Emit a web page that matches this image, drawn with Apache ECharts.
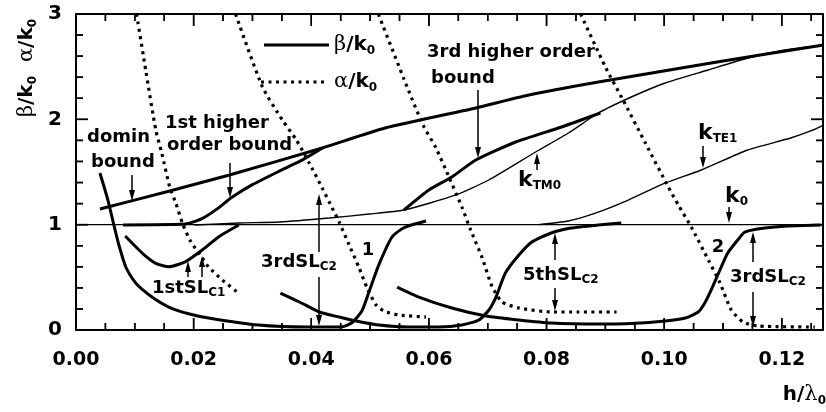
<!DOCTYPE html>
<html><head><meta charset="utf-8">
<script src="https://cdn.jsdelivr.net/npm/echarts@6/dist/echarts.min.js"></script>
<style>html,body{margin:0;padding:0;background:#fff}#c{width:826px;height:412px}</style>
</head><body><div id="c"></div>
<script>
// ---- tick labels ----
const xTickLabels = ['0.00','0.02','0.04','0.06','0.08','0.10','0.12'];
const yTickLabels = ['0','1','2','3'];
const xMinorStep = 0.005, yMinorStep = 0.2;

// ---- beta/k0 thick curves ----
const dominBoundTop = [[0.00407,1.149],[0.01593,1.320],[0.0261,1.472],[0.04186,1.728],[0.05254,1.918],[0.06797,2.108],[0.07627,2.222],[0.08881,2.354],[0.10797,2.535],[0.12712,2.706]];
const firstHigherBound = [[0.0080,0.997],[0.0180,1.003],[0.0193,1.015],[0.0215,1.06],[0.0240,1.15],[0.0265,1.26],[0.0300,1.38],[0.0350,1.52],[0.0385,1.615],[0.0419,1.728]];
const thirdHigherBound = [[0.05576,1.139],[0.0600,1.329],[0.0639,1.453],[0.06797,1.614],[0.07475,1.785],[0.08254,1.927],[0.08915,2.060]];
const firstSLC1Beta = [[0.00836,0.892],[0.0113,0.728],[0.01356,0.633],[0.0158,0.601],[0.01864,0.649],[0.02147,0.760],[0.02429,0.886],[0.02768,0.997]];
const mode1Beta = [[0.00407,1.49],[0.00542,1.234],[0.00644,0.997],[0.00729,0.807],[0.00847,0.598],[0.0100,0.456],[0.01136,0.380],[0.0134,0.294],[0.01576,0.218],[0.0193,0.152],[0.02254,0.114],[0.0310,0.047],[0.0395,0.028],[0.0451,0.028],[0.0469,0.069],[0.0486,0.18],[0.0498,0.36],[0.0515,0.62],[0.0537,0.88],[0.0554,0.96],[0.0566,0.99],[0.0595,1.035]];
const thirdSLC2Beta = [[0.03475,0.351],[0.0380,0.266],[0.04136,0.171],[0.04475,0.123],[0.04763,0.085],[0.0515,0.047],[0.0566,0.028],[0.0617,0.028],[0.0656,0.047],[0.0685,0.095],[0.0702,0.19],[0.0714,0.313],[0.0730,0.541],[0.0753,0.712],[0.0775,0.835],[0.0808,0.921],[0.0842,0.968],[0.0888,0.997],[0.0927,1.016]];
const fifthSLC2Beta = [[0.0546,0.408],[0.0583,0.313],[0.0639,0.209],[0.0697,0.133],[0.0753,0.095],[0.0808,0.066],[0.0888,0.057],[0.0944,0.062],[0.1002,0.085],[0.1036,0.114],[0.1058,0.171],[0.1069,0.256],[0.1080,0.38],[0.1097,0.598],[0.1108,0.731],[0.1125,0.854],[0.1137,0.93],[0.1171,0.968],[0.1210,0.987],[0.1266,0.997]];

// ---- thin reference curves ----
const k0Line = [[0,1],[0.127,1]];
const kTM0 = [[0.0202,0.997],[0.0278,1.016],[0.0346,1.025],[0.04305,1.063],[0.04983,1.101],[0.05576,1.139],[0.06458,1.282],[0.07017,1.424],[0.07814,1.690],[0.08373,1.870],[0.08881,2.060],[0.09441,2.212],[0.10017,2.345],[0.10746,2.468],[0.11424,2.582],[0.12051,2.658],[0.12712,2.706]];
const kTE1 = [[0.0786,1.0],[0.0837,1.035],[0.0883,1.11],[0.0939,1.234],[0.1002,1.396],[0.1063,1.519],[0.1142,1.709],[0.1215,1.823],[0.1249,1.89],[0.1271,1.946]];

// ---- alpha/k0 dotted curves ----
const alpha1 = [[0.0103,3.0],[0.0119,2.45],[0.01356,1.90],[0.01458,1.68],[0.01593,1.358],[0.0170,1.20],[0.01814,1.006],[0.0195,0.84],[0.02136,0.693],[0.02254,0.598],[0.02486,0.475],[0.02763,0.351]];
const alpha2 = [[0.02712,3.0],[0.0317,2.307],[0.03508,1.994],[0.03746,1.804],[0.03966,1.585],[0.04186,1.348],[0.04356,1.158],[0.04475,1.025],[0.04644,0.807],[0.04814,0.589],[0.04949,0.399],[0.05102,0.237],[0.05237,0.18],[0.05492,0.142],[0.05949,0.123]];
const alpha3 = [[0.0514,3.0],[0.0563,2.307],[0.0590,1.946],[0.0612,1.728],[0.0634,1.453],[0.0656,1.168],[0.0671,0.949],[0.0690,0.693],[0.0707,0.418],[0.0724,0.266],[0.0753,0.209],[0.0808,0.171],[0.0854,0.171],[0.0919,0.171]];
const alpha4 = [[0.0858,3.0],[0.0900,2.497],[0.0930,2.184],[0.0968,1.775],[0.1007,1.358],[0.1024,1.187],[0.1046,0.978],[0.1075,0.665],[0.1095,0.446],[0.1114,0.19],[0.1134,0.076],[0.1159,0.038],[0.1256,0.028]];

const chart = echarts.init(document.getElementById('c'));
const SANS = 'DejaVu Sans', SERIF = 'DejaVu Serif';
const X_MAX = 0.127, Y_MAX = 3;
const GRID = {left:76,right:2,top:14,bottom:82};

function thick(data){return {type:'line',data,showSymbol:false,smooth:0.2,silent:true,lineStyle:{color:'#000',width:3},z:3};}
function thin(data){return {type:'line',data,showSymbol:false,smooth:0.2,silent:true,lineStyle:{color:'#000',width:1.4},z:2};}
function dotted(data){return {type:'line',data,showSymbol:false,smooth:0.2,silent:true,lineStyle:{color:'#000',width:3.2,type:[3,4.5]},z:2};}

// frame tick segments as tiny line series (axis decoration), lengths in axis units
const plotW = 826 - GRID.left - GRID.right, plotH = 412 - GRID.top - GRID.bottom;
const xu = X_MAX/plotW, yu = Y_MAX/plotH;
const tickSeries = [];
function tickLine(a,b){tickSeries.push({type:'line',data:[a,b],showSymbol:false,silent:true,clip:false,z:5,lineStyle:{color:'#000',width:1.5}});}
for (let i=1;i*xMinorStep<X_MAX-1e-9;i++){
  const x=i*xMinorStep, len=((i%4===0)?12:7)*yu;
  tickLine([x,0],[x,len]); tickLine([x,Y_MAX],[x,Y_MAX-len]);
}
for (let j=1;j*yMinorStep<Y_MAX-1e-9;j++){
  const y=j*yMinorStep, len=((j%5===0)?12:7)*xu;
  tickLine([0,y],[len,y]); tickLine([X_MAX,y],[X_MAX-len,y]);
}

const rich = {
  b:{fontFamily:SANS,fontWeight:'bold',fontSize:18,lineHeight:22,color:'#000'},
  k:{fontFamily:SANS,fontWeight:'bold',fontSize:22,lineHeight:24,color:'#000'},
  s:{fontFamily:SANS,fontWeight:'bold',fontSize:12,lineHeight:12,verticalAlign:'bottom',color:'#000'},
  g:{fontFamily:SERIF,fontSize:21,lineHeight:24,color:'#000'},
  bk:{fontFamily:SANS,fontWeight:'bold',fontSize:20,lineHeight:24,color:'#000'}
};
function txt(x,y,t,align){return {type:'text',x,y,z:10,silent:true,style:{text:t,rich,align:align||'left',verticalAlign:'middle',fill:'#000'}};}
function seg(x1,y1,x2,y2,w){return {type:'line',z:9,silent:true,shape:{x1,y1,x2,y2},style:{stroke:'#000',lineWidth:w||1.5}};}
function arrow(x,y1,y2){
  const d = y2>y1?1:-1;
  return [
    seg(x,y1,x,y2-d*6),
    {type:'polygon',z:9,silent:true,shape:{points:[[x,y2],[x-3,y2-d*11],[x+3,y2-d*11]]},style:{fill:'#000'}}
  ];
}
const baseGraphic = [
  seg(264,45,329,45,3),
  {type:'line',z:9,shape:{x1:261,y1:82,x2:328,y2:82},style:{stroke:'#000',lineWidth:3.2,lineDash:[3,4.5]}},
  txt(334,45,'{g|β}{bk|/k}{s|0}'),
  txt(334,82,'{g|α}{bk|/k}{s|0}'),
  {type:'text',x:27,y:68,rotation:Math.PI/2,z:10,style:{text:'{g|β}{bk|/k}{s|0}{bk|  }{g|α}{bk|/k}{s|0}',rich,align:'center',verticalAlign:'middle'}},
  txt(826,395,'{bk|h/}{g|λ}{s|0}','right'),
  txt(87,137,'{b|domin}'), txt(91,162,'{b|bound}'),
  txt(165,123,'{b|1st higher}'), txt(167,145,'{b|order bound}'),
  txt(427,52,'{b|3rd higher order}'), txt(431,78,'{b|bound}'),
  txt(518,180,'{k|k}{s|TM0}'), txt(698,133,'{k|k}{s|TE1}'), txt(725,196,'{k|k}{s|0}'),
  txt(152,288,'{b|1stSL}{s|C1}'),
  txt(261,262,'{b|3rdSL}{s|C2}'),
  txt(368,250,'{b|1}','center'),
  txt(523,275,'{b|5thSL}{s|C2}'),
  txt(718,247,'{b|2}','center'),
  txt(730,277,'{b|3rdSL}{s|C2}'),
  ...arrow(132,175,201), ...arrow(230,163,198), ...arrow(478,90,158),
  ...arrow(537,170,153), ...arrow(703,146,168), ...arrow(729,207,223),
  ...arrow(188,277,261), ...arrow(202,277,256),
  ...arrow(319,252,194), ...arrow(319,277,326),
  ...arrow(555,260,233), ...arrow(555,288,311),
  ...arrow(753,262,232), ...arrow(753,292,327)
];

const axisLineStyle = {show:true,onZero:false,lineStyle:{color:'#000',width:2}};
const option = {
  animation:false,
  backgroundColor:'#fff',
  grid:Object.assign({containLabel:false},GRID),
  xAxis:[
    {type:'value',position:'bottom',min:0,max:X_MAX,interval:0.02,splitLine:{show:false},axisLine:axisLineStyle,axisTick:{show:false},
      axisLabel:{show:true,margin:21,color:'#000',fontFamily:SANS,fontWeight:'bold',fontSize:19,
        formatter:v=>{const s=v.toFixed(2);return (xTickLabels.includes(s)&&Math.abs(v-parseFloat(s))<1e-9)?s:'';}}},
    {type:'value',position:'top',min:0,max:X_MAX,interval:0.02,splitLine:{show:false},axisLine:axisLineStyle,axisTick:{show:false},axisLabel:{show:false}}
  ],
  yAxis:[
    {type:'value',position:'left',min:0,max:Y_MAX,interval:1,axisLine:axisLineStyle,splitLine:{show:false},axisTick:{show:false},
      axisLabel:{show:true,margin:14,color:'#000',fontFamily:SANS,fontWeight:'bold',fontSize:20,
        formatter:v=>yTickLabels[Math.round(v)]}},
    {type:'value',position:'right',min:0,max:Y_MAX,interval:1,axisLine:axisLineStyle,splitLine:{show:false},axisTick:{show:false},axisLabel:{show:false}}
  ],
  series:[
    thin(k0Line), thin(kTM0), thin(kTE1),
    thick(dominBoundTop), thick(firstHigherBound), thick(thirdHigherBound),
    thick(firstSLC1Beta), thick(mode1Beta), thick(thirdSLC2Beta), thick(fifthSLC2Beta),
    dotted(alpha1), dotted(alpha2), dotted(alpha3), dotted(alpha4)
  ].concat(tickSeries).map(s=>Object.assign(s,{xAxisIndex:0,yAxisIndex:0}))
};
chart.setOption(option);

// also place the ticks as graphic segments first (same positions, via the axis scales)
const toPx = (x,y)=>chart.convertToPixel({gridIndex:0},[x,y]);
const ticks = [];
const p00 = toPx(0,0), p13 = toPx(X_MAX,Y_MAX);
const xL=p00[0], yB=p00[1], xR=p13[0], yT=p13[1];
for (let i=1;i*xMinorStep<X_MAX-1e-9;i++){
  const px=toPx(i*xMinorStep,0)[0], len=(i%4===0)?12:7;
  ticks.push(seg(px,yB,px,yB-len), seg(px,yT,px,yT+len));
}
for (let j=1;j*yMinorStep<Y_MAX-1e-9;j++){
  const py=toPx(0,j*yMinorStep)[1], len=(j%5===0)?12:7;
  ticks.push(seg(xL,py,xL+len,py), seg(xR,py,xR-len,py));
}
chart.setOption({graphic: ticks.concat(baseGraphic)});
</script></body></html>
